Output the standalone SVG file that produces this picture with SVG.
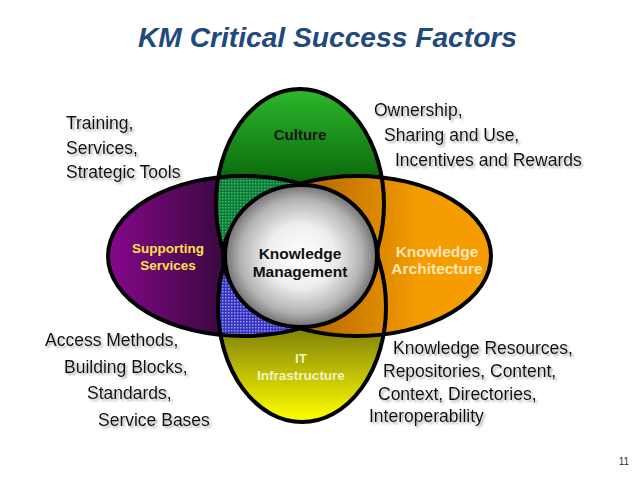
<svg xmlns="http://www.w3.org/2000/svg" width="638" height="479" viewBox="0 0 638 479">
<defs>
<style>
.side{font-family:"Liberation Sans",Arial,sans-serif;font-size:17.5px;fill:#111;filter:url(#shadow)}
.lbl{font-family:"Liberation Sans",Arial,sans-serif;font-weight:bold;text-anchor:middle}
.ol{fill:none;stroke:#000;stroke-width:4}
</style>
<filter id="shadow" x="-10%" y="-30%" width="130%" height="170%">
<feGaussianBlur in="SourceAlpha" stdDeviation="1"/>
<feOffset dx="1.5" dy="2" result="b"/>
<feFlood flood-color="#777" flood-opacity="0.6"/>
<feComposite in2="b" operator="in"/>
<feMerge><feMergeNode/><feMergeNode in="SourceGraphic"/></feMerge>
</filter>
<linearGradient id="gGreen" gradientUnits="userSpaceOnUse" x1="0" y1="90" x2="0" y2="185">
<stop offset="0" stop-color="#2cb82c"/><stop offset="1" stop-color="#0a650a"/>
</linearGradient>
<linearGradient id="gYellow" gradientUnits="userSpaceOnUse" x1="0" y1="335" x2="0" y2="415">
<stop offset="0" stop-color="#8a8a0a"/><stop offset="1" stop-color="#f8f800"/>
</linearGradient>
<linearGradient id="gPurple" gradientUnits="userSpaceOnUse" x1="110" y1="0" x2="222" y2="0">
<stop offset="0" stop-color="#85088a"/><stop offset="1" stop-color="#3a0840"/>
</linearGradient>
<linearGradient id="gOrange" gradientUnits="userSpaceOnUse" x1="300" y1="0" x2="420" y2="0">
<stop offset="0" stop-color="#b06400"/><stop offset="1" stop-color="#f49c00"/>
</linearGradient>
<radialGradient id="gKM" cx="0.5" cy="0.5" r="0.5">
<stop offset="0" stop-color="#ffffff"/><stop offset="0.45" stop-color="#eeeeee"/><stop offset="0.8" stop-color="#b3b3b3"/><stop offset="1" stop-color="#707070"/>
</radialGradient>
<pattern id="pGreen" width="3" height="3" patternUnits="userSpaceOnUse">
<rect width="3" height="3" fill="#0b7a38"/><rect width="1.5" height="1.5" fill="#3fb86a"/>
</pattern>
<pattern id="pBlue" width="3" height="3" patternUnits="userSpaceOnUse">
<rect width="3" height="3" fill="#3434c0"/><rect width="1.5" height="1.5" fill="#9a9af5"/>
</pattern>
<clipPath id="cCulture"><ellipse cx="300" cy="204" rx="84" ry="115"/></clipPath>
<clipPath id="cIT"><ellipse cx="302" cy="307" rx="84" ry="115"/></clipPath>
</defs>
<rect width="638" height="479" fill="#fff"/>
<text x="138" y="47" style="font-family:'Liberation Sans',Arial,sans-serif;font-weight:bold;font-style:italic;font-size:27px;fill:#1f4a80" textLength="379" lengthAdjust="spacingAndGlyphs">KM Critical Success Factors</text>

<g id="culture">
<ellipse cx="300" cy="204" rx="84" ry="115" fill="url(#gGreen)"/>
<text class="lbl" x="300" y="140" style="font-size:15px;fill:#151515">Culture</text>
</g>
<g id="it">
<ellipse cx="302" cy="307" rx="84" ry="115" fill="url(#gYellow)"/>
<text class="lbl" x="301" y="363" style="font-size:13.5px;fill:#f2f2c4">IT</text>
<text class="lbl" x="301" y="380" style="font-size:13.5px;fill:#f2f2c4">Infrastructure</text>
</g>
<g id="supporting">
<ellipse cx="243" cy="256" rx="135" ry="80" fill="url(#gPurple)"/>
<text class="lbl" x="168" y="253" style="font-size:13.5px;fill:#ffe04a">Supporting</text>
<text class="lbl" x="168" y="270" style="font-size:13.5px;fill:#ffe04a">Services</text>
</g>
<g id="architecture">
<ellipse cx="357" cy="256" rx="134" ry="80" fill="url(#gOrange)"/>
<text class="lbl" x="437" y="257" style="font-size:15.5px;fill:#ffe6b8">Knowledge</text>
<text class="lbl" x="437" y="274" style="font-size:15.5px;fill:#ffe6b8">Architecture</text>
</g>
<g id="overlaps">
<ellipse cx="243" cy="256" rx="135" ry="80" fill="url(#pGreen)" clip-path="url(#cCulture)"/>
<ellipse cx="243" cy="256" rx="135" ry="80" fill="url(#pBlue)" clip-path="url(#cIT)"/>
</g>
<g id="connectors">
<ellipse class="ol" cx="300" cy="204" rx="84" ry="115"/>
<ellipse class="ol" cx="302" cy="307" rx="84" ry="115"/>
<ellipse class="ol" cx="243" cy="256" rx="135" ry="80"/>
<ellipse class="ol" cx="357" cy="256" rx="134" ry="80"/>
</g>
<g id="km">
<ellipse cx="301" cy="256" rx="76" ry="71" fill="url(#gKM)" stroke="#000" stroke-width="4"/>
<text class="lbl" x="300" y="259" style="font-size:15.5px;fill:#111">Knowledge</text>
<text class="lbl" x="300" y="277" style="font-size:15.5px;fill:#111">Management</text>
</g>

<g id="notes">
<text class="side" x="66" y="129">Training,</text>
<text class="side" x="66" y="154">Services,</text>
<text class="side" x="66" y="178">Strategic Tools</text>
<text class="side" x="374" y="116">Ownership,</text>
<text class="side" x="384" y="141">Sharing and Use,</text>
<text class="side" x="395" y="166">Incentives and Rewards</text>
<text class="side" x="45" y="346">Access Methods,</text>
<text class="side" x="64" y="373">Building Blocks,</text>
<text class="side" x="87" y="399">Standards,</text>
<text class="side" x="98" y="426">Service Bases</text>
<text class="side" x="393" y="354">Knowledge Resources,</text>
<text class="side" x="383" y="377">Repositories, Content,</text>
<text class="side" x="378" y="400">Context, Directories,</text>
<text class="side" x="369" y="422">Interoperability</text>
</g>
<text x="624" y="465" style="font-family:'Liberation Sans',Arial,sans-serif;font-size:10px;fill:#333;text-anchor:middle">11</text>
</svg>
